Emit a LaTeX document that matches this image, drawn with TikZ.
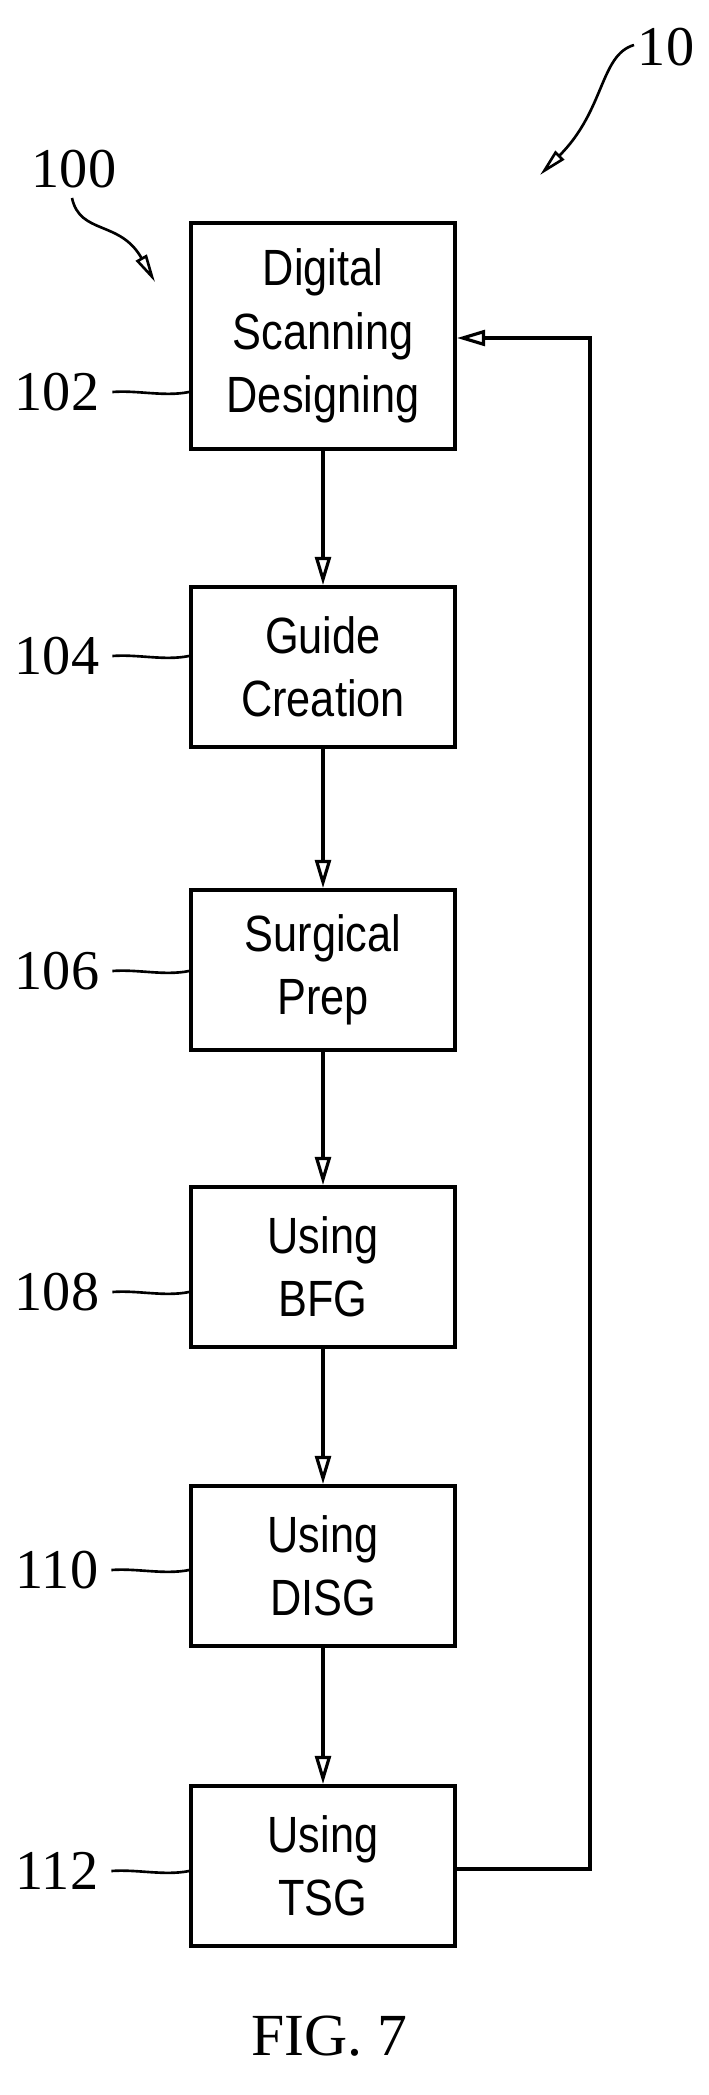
\documentclass[tikz,border=0pt]{standalone}
\usepackage{fontspec}
\setmainfont{Liberation Serif}
\newfontfamily\boxfont[FakeStretch=0.85]{Liberation Sans}
\usetikzlibrary{arrows.meta,positioning}

\begin{document}
\begin{tikzpicture}[x=0.02cm,y=-0.02cm,
 stepbox/.style={draw,line width=2.2pt,minimum width=5.28cm,minimum height=3.2cm,align=center,
   font=\boxfont\fontsize{29}{36}\selectfont},
 refnum/.style={font=\fontsize{32}{34}\selectfont},
 flow/.style={line width=1.8pt,-{Triangle[open,length=16pt,width=9pt]}},
 lead/.style={line width=1.5pt}]
\useasboundingbox (0,0) rectangle (709,2095);

\node[stepbox,minimum height=4.52cm] (b102) at (323,336) {Digital\\Scanning\\Designing};
\node[stepbox] (b104) at (323,667) {Guide\\Creation};
\node[stepbox] (b106) at (323,970) {Surgical\\Prep};
\node[stepbox] (b108) at (323,1267) {Using\\BFG};
\node[stepbox] (b110) at (323,1566) {Using\\DISG};
\node[stepbox] (b112) at (323,1866) {Using\\TSG};

\draw[flow] (b102) -- (b104);
\draw[flow] (b104) -- (b106);
\draw[flow] (b106) -- (b108);
\draw[flow] (b108) -- (b110);
\draw[flow] (b110) -- (b112);
\coordinate (fb1) at (590,1869);
\coordinate (fb2) at (590,338);
\draw[flow] (b112.east |- fb1) -- (fb1) -- (fb2) -- (b102.east |- fb2);

% reference numerals
\foreach \nm/\y/\txt in {l102/392/102,l104/656/104,l106/971/106,l108/1292/108,l110/1570/110,l112/1871/112}{
 \node[refnum] (\nm) at (57,\y) {\txt};
}
\foreach \nm/\bx in {l102/b102,l104/b104,l106/b106,l108/b108,l110/b110,l112/b112}{
 \draw[lead] (\nm.east) ++(4pt,0) .. controls +(25,-2) and +(-25,5) .. (\nm.east -| \bx.west);
}
\node[refnum] (l100) at (74,169) {100};
\node[refnum] (l10) at (666,47) {10};
\coordinate (p100) at (155,282);
\coordinate (p10) at (540,175);
\draw[lead,-{Triangle[open,length=16pt,width=7pt]}] (72,198) .. controls (80,235) and (120,220) .. (p100);
\draw[lead,-{Triangle[open,length=16pt,width=7pt]}] (634,45) .. controls (600,55) and (605,110) .. (p10);

\node[font=\fontsize{34}{40}\selectfont] (fig) at (329,2036) {FIG. 7};
\end{tikzpicture}
\end{document}
